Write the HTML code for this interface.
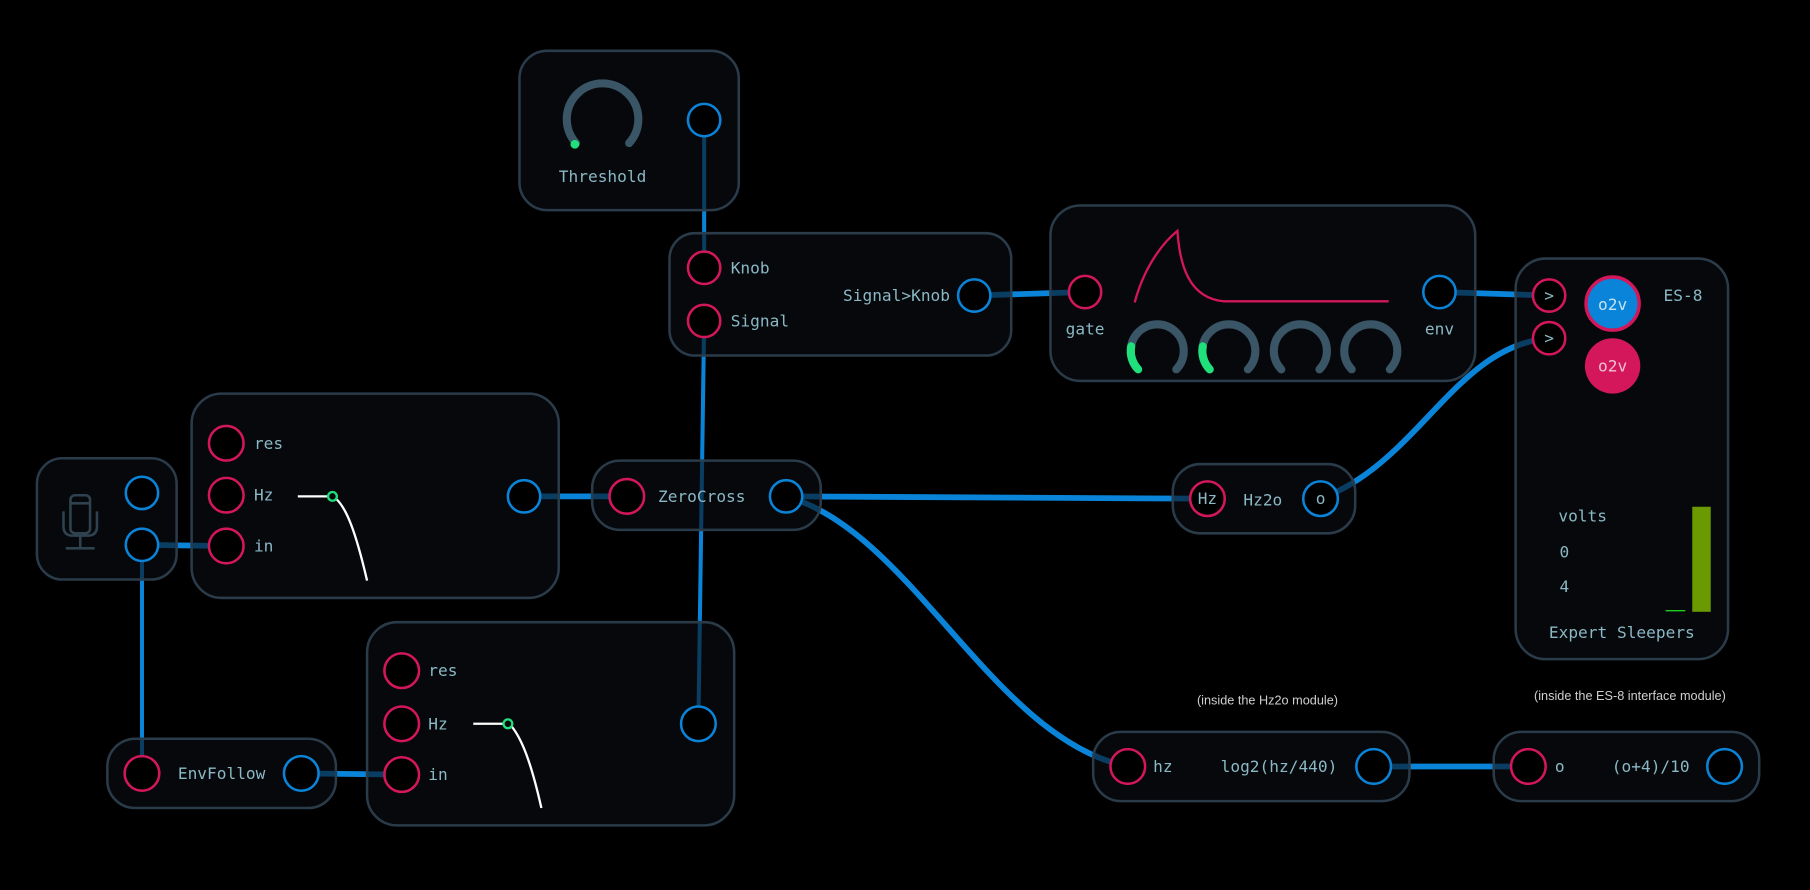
<!DOCTYPE html>
<html><head><meta charset="utf-8"><style>
html,body{margin:0;padding:0;background:#000;}
svg{display:block}
text{font-family:"DejaVu Sans Mono","Liberation Mono",monospace;fill:#8ab8c4;font-size:14px;dominant-baseline:central}
.n{fill:rgba(10,14,20,0.6);stroke:#2a3b49;stroke-width:2.2}
.r{fill:#000;stroke:#d3175a;stroke-width:2.2}
.b{fill:#000;stroke:#0a84d8;stroke-width:2.2}
.c{fill:none;stroke:#0a84d8;stroke-width:5;stroke-linecap:round}
.ct{fill:none;stroke:#0a84d8;stroke-width:3.5}
.k{fill:none;stroke:#3a5566;stroke-width:7;stroke-linecap:round}
.g{fill:none;stroke:#1fe07a;stroke-width:7;stroke-linecap:round}
</style></head><body>
<svg width="1810" height="890" viewBox="0 0 1568 771" xmlns="http://www.w3.org/2000/svg">
<rect width="1568" height="771" fill="#000"/>
<!-- cables -->
<line class="ct" x1="610" y1="104" x2="610" y2="232"/>
<line class="ct" x1="610" y1="278" x2="605" y2="627"/>
<line class="ct" x1="123" y1="472" x2="123" y2="670"/>
<path class="c" d="M844 256 L940 253"/>
<path class="c" d="M1247 253 L1342 256"/>
<path class="c" d="M1144 432 C1230 400 1260 300 1342 293"/>
<path class="c" d="M681 430 L1046 432"/>
<path class="c" d="M681 430 C790 460 860 640 977 664"/>
<path class="c" d="M454 430 L543 430"/>
<path class="c" d="M123 472 L196 473"/>
<path class="c" d="M261 670 L348 671"/>
<path class="c" d="M1190 664 L1324 664"/>
<!-- nodes -->
<rect class="n" x="450" y="44" width="190" height="138" rx="24"/>
<rect class="n" x="580" y="202" width="296" height="106" rx="22"/>
<rect class="n" x="910" y="178" width="368" height="152" rx="26"/>
<rect class="n" x="1313" y="224" width="184" height="347" rx="26"/>
<rect class="n" x="32" y="397" width="121" height="105" rx="22"/>
<rect class="n" x="166" y="341" width="318" height="177" rx="26"/>
<rect class="n" x="513" y="399" width="198" height="60" rx="24"/>
<rect class="n" x="1016" y="402" width="158" height="60" rx="24"/>
<rect class="n" x="318" y="539" width="318" height="176" rx="26"/>
<rect class="n" x="93" y="640" width="198" height="60" rx="24"/>
<rect class="n" x="947" y="634" width="274" height="60" rx="24"/>
<rect class="n" x="1294" y="634" width="230" height="60" rx="24"/>
<!-- threshold -->
<path class="k" d="M499 124 A31 31 0 1 1 545 124"/>
<circle cx="498" cy="125" r="3.8" fill="#1fe07a"/>
<text x="522" y="153" text-anchor="middle">Threshold</text>
<circle class="b" cx="610" cy="104" r="14"/>
<!-- comparator -->
<circle class="r" cx="610" cy="232" r="14"/><text x="633" y="232">Knob</text>
<circle class="r" cx="610" cy="278" r="14"/><text x="633" y="278">Signal</text>
<text x="823" y="256" text-anchor="end">Signal&gt;Knob</text>
<circle class="b" cx="844" cy="256" r="14"/>
<!-- envelope -->
<circle class="r" cx="940" cy="253" r="14"/><text x="940" y="285" text-anchor="middle">gate</text>
<path d="M983 262 C990 235 1005 212 1020 200 C1022 230 1030 258 1060 261 L1203 261" fill="none" stroke="#d3175a" stroke-width="2"/>
<g>
<path class="k" d="M986 320 A23 23 0 1 1 1019 320"/><path class="g" d="M986 320 A23 23 0 0 1 980 300"/>
<path class="k" d="M1048 320 A23 23 0 1 1 1081 320"/><path class="g" d="M1048 320 A23 23 0 0 1 1042 300"/>
<path class="k" d="M1110 320 A23 23 0 1 1 1143 320"/>
<path class="k" d="M1171 320 A23 23 0 1 1 1204 320"/>
</g>
<circle class="b" cx="1247" cy="253" r="14"/><text x="1247" y="285" text-anchor="middle">env</text>
<!-- ES-8 -->
<circle class="r" cx="1342" cy="256" r="14"/><text x="1342" y="256" text-anchor="middle" font-size="13">&gt;</text>
<circle class="r" cx="1342" cy="293" r="14"/><text x="1342" y="293" text-anchor="middle" font-size="13">&gt;</text>
<circle cx="1397" cy="263" r="23" fill="#0a84d8" stroke="#d3175a" stroke-width="3"/>
<text x="1397" y="264" text-anchor="middle" style="fill:#bfe3f2">o2v</text>
<circle cx="1397" cy="317" r="24" fill="#d3175a"/>
<text x="1397" y="317" text-anchor="middle" style="fill:#f0c0d0">o2v</text>
<text x="1458" y="256" text-anchor="middle">ES-8</text>
<text x="1350" y="447">volts</text>
<text x="1351" y="478">0</text>
<text x="1351" y="508">4</text>
<rect x="1466" y="439" width="16" height="91" fill="#6a9a00"/>
<line x1="1443" y1="529" x2="1460" y2="529" stroke="#22cc22" stroke-width="1.2"/>
<text x="1405" y="548" text-anchor="middle">Expert Sleepers</text>
<!-- mic -->
<g fill="none" stroke="#2f4250" stroke-width="2.2">
<rect x="61" y="429" width="17" height="33" rx="4"/>
<line x1="61" y1="436" x2="78" y2="436"/>
<path d="M55 443 L55 456 Q55 464 63 464 L76 464 Q84 464 84 456 L84 443"/>
<line x1="69.5" y1="464" x2="69.5" y2="475"/>
<line x1="57" y1="475" x2="82" y2="475"/>
</g>
<circle class="b" cx="123" cy="427" r="14"/>
<circle class="b" cx="123" cy="472" r="14"/>
<!-- filter1 -->
<circle class="r" cx="196" cy="384" r="15"/><text x="220" y="384">res</text>
<circle class="r" cx="196" cy="429" r="15"/><text x="220" y="429">Hz</text>
<circle class="r" cx="196" cy="473" r="15"/><text x="220" y="473">in</text>
<path d="M258 430 L284 430 M291 432 C300 440 308 460 318 503" fill="none" stroke="#fff" stroke-width="2"/>
<circle cx="288" cy="430" r="3.8" fill="none" stroke="#1fe07a" stroke-width="2"/>
<circle class="b" cx="454" cy="430" r="14"/>
<!-- zerocross -->
<circle class="r" cx="543" cy="430" r="15"/><text x="570" y="430">ZeroCross</text>
<circle class="b" cx="681" cy="430" r="14"/>
<!-- Hz2o -->
<circle class="r" cx="1046" cy="432" r="15"/><text x="1046" y="432" text-anchor="middle">Hz</text>
<text x="1094" y="433" text-anchor="middle">Hz2o</text>
<circle class="b" cx="1144" cy="432" r="15"/><text x="1144" y="432" text-anchor="middle">o</text>
<!-- filter2 -->
<circle class="r" cx="348" cy="581" r="15"/><text x="371" y="581">res</text>
<circle class="r" cx="348" cy="627" r="15"/><text x="371" y="627">Hz</text>
<circle class="r" cx="348" cy="671" r="15"/><text x="371" y="671">in</text>
<path d="M410 627 L436 627 M443 629 C452 640 460 660 469 700" fill="none" stroke="#fff" stroke-width="2"/>
<circle cx="440" cy="627" r="3.8" fill="none" stroke="#1fe07a" stroke-width="2"/>
<circle class="b" cx="605" cy="627" r="15"/>
<!-- envfollow -->
<circle class="r" cx="123" cy="670" r="15"/><text x="192" y="670" text-anchor="middle">EnvFollow</text>
<circle class="b" cx="261" cy="670" r="15"/>
<!-- log2 -->
<circle class="r" cx="977" cy="664" r="15"/><text x="999" y="664">hz</text>
<text x="1108" y="664" text-anchor="middle">log2(hz/440)</text>
<circle class="b" cx="1190" cy="664" r="15"/>
<!-- last -->
<circle class="r" cx="1324" cy="664" r="15"/><text x="1347" y="664">o</text>
<text x="1430" y="664" text-anchor="middle">(o+4)/10</text>
<circle class="b" cx="1494" cy="664" r="15"/>
<text x="1098" y="607" text-anchor="middle" style="font-family:'Liberation Sans',sans-serif;font-size:11px;fill:#cfcfcf">(inside the Hz2o module)</text>
<text x="1412" y="603" text-anchor="middle" style="font-family:'Liberation Sans',sans-serif;font-size:11px;fill:#cfcfcf">(inside the ES-8 interface module)</text>
</svg>
</body></html>
